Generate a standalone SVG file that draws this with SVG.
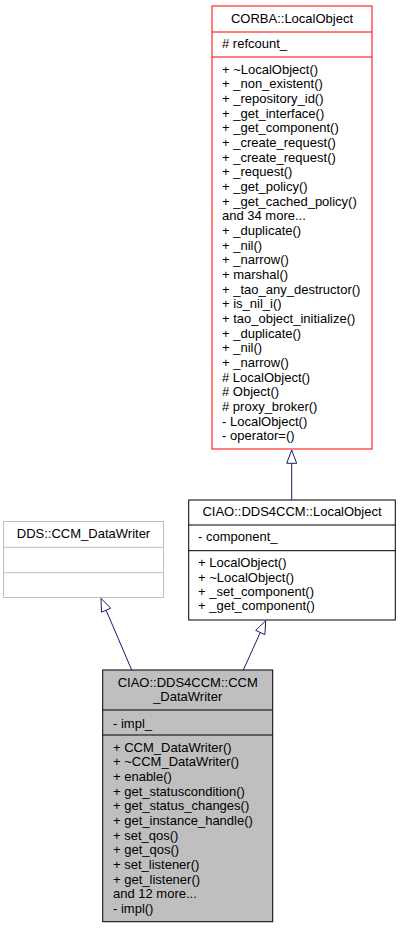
<svg xmlns="http://www.w3.org/2000/svg" width="400" height="928" viewBox="0 0 400 928">
<style>
text{font-family:"Liberation Sans",Arial,sans-serif;font-size:13px;fill:#000}
.c{text-anchor:middle}
.box{fill:#fff;stroke:#000;stroke-width:1}
.red{fill:#fff;stroke:#ff0000;stroke-width:1}
.gray{fill:#fff;stroke:#bfbfbf;stroke-width:1}
.cur{fill:#bfbfbf;stroke:#000;stroke-width:1}
.edge{stroke:#191970;stroke-width:1;fill:none}
.head{fill:#fff;stroke:#191970;stroke-width:1}
</style>
<rect width="400" height="928" fill="#fff"/>
<g id="corba_localobject">
<rect class="red" x="212" y="6" width="160" height="443"/>
<line x1="212" y1="32" x2="372" y2="32" stroke="#ff0000"/>
<line x1="212" y1="57" x2="372" y2="57" stroke="#ff0000"/>
<text class="c" x="292" y="23">CORBA::LocalObject</text>
<text x="222" y="48">#  refcount_</text>
<text x="222" y="73.5">+  ~LocalObject()</text>
<text x="222" y="88.2">+  _non_existent()</text>
<text x="222" y="102.8">+  _repository_id()</text>
<text x="222" y="117.5">+  _get_interface()</text>
<text x="222" y="132.2">+  _get_component()</text>
<text x="222" y="146.8">+  _create_request()</text>
<text x="222" y="161.5">+  _create_request()</text>
<text x="222" y="176.2">+  _request()</text>
<text x="222" y="190.9">+  _get_policy()</text>
<text x="222" y="205.5">+  _get_cached_policy()</text>
<text x="222" y="220.2">and 34 more...</text>
<text x="222" y="234.9">+  _duplicate()</text>
<text x="222" y="249.5">+  _nil()</text>
<text x="222" y="264.2">+  _narrow()</text>
<text x="222" y="278.9">+  marshal()</text>
<text x="222" y="293.5">+  _tao_any_destructor()</text>
<text x="222" y="308.2">+  is_nil_i()</text>
<text x="222" y="322.9">+  tao_object_initialize()</text>
<text x="222" y="337.5">+  _duplicate()</text>
<text x="222" y="352.2">+  _nil()</text>
<text x="222" y="366.9">+  _narrow()</text>
<text x="222" y="381.5">#  LocalObject()</text>
<text x="222" y="396.2">#  Object()</text>
<text x="222" y="410.9">#  proxy_broker()</text>
<text x="222" y="425.5">-  LocalObject()</text>
<text x="222" y="440.2">-  operator=()</text>
</g>
<g id="ciao_dds4ccm_localobject">
<rect class="box" x="188.7" y="500" width="206.6" height="120"/>
<line x1="188.7" y1="525" x2="395.3" y2="525" stroke="#000"/>
<line x1="188.7" y1="550.7" x2="395.3" y2="550.7" stroke="#000"/>
<text class="c" x="292" y="515.5">CIAO::DDS4CCM::LocalObject</text>
<text x="198" y="541.2">-  component_</text>
<text x="198" y="567.2">+  LocalObject()</text>
<text x="198" y="581.6">+  ~LocalObject()</text>
<text x="198" y="596">+  _set_component()</text>
<text x="198" y="610.4">+  _get_component()</text>
</g>
<g id="dds_ccm_datawriter">
<rect class="gray" x="3.5" y="521.5" width="160" height="76"/>
<line x1="3.5" y1="547.3" x2="163.5" y2="547.3" stroke="#bfbfbf"/>
<line x1="3.5" y1="572.7" x2="163.5" y2="572.7" stroke="#bfbfbf"/>
<text class="c" x="83.5" y="538">DDS::CCM_DataWriter</text>
</g>
<g id="ciao_dds4ccm_ccm_datawriter">
<rect class="cur" x="102.7" y="670" width="170" height="251.7"/>
<line x1="102.7" y1="710" x2="272.7" y2="710" stroke="#000"/>
<line x1="102.7" y1="735" x2="272.7" y2="735" stroke="#000"/>
<text class="c" x="187.7" y="687.2">CIAO::DDS4CCM::CCM</text>
<text class="c" x="187.7" y="701.2">_DataWriter</text>
<text x="113" y="727.8">-  impl_</text>
<text x="113" y="751.8">+  CCM_DataWriter()</text>
<text x="113" y="766.4">+  ~CCM_DataWriter()</text>
<text x="113" y="781.1">+  enable()</text>
<text x="113" y="795.7">+  get_statuscondition()</text>
<text x="113" y="810.4">+  get_status_changes()</text>
<text x="113" y="825">+  get_instance_handle()</text>
<text x="113" y="839.6">+  set_qos()</text>
<text x="113" y="854.3">+  get_qos()</text>
<text x="113" y="868.9">+  set_listener()</text>
<text x="113" y="883.6">+  get_listener()</text>
<text x="113" y="898.2">and 12 more...</text>
<text x="113" y="912.8">-  impl()</text>
</g>
<g id="connectors">
<line class="edge" x1="291.7" y1="463.3" x2="291.7" y2="500"/>
<polygon class="head" points="291.7,450 296.7,463.3 286.7,463.3"/>
<line class="edge" x1="131.7" y1="670" x2="106.1" y2="610.2"/>
<polygon class="head" points="101,598.3 110.7,608.2 101.5,612.2"/>
<line class="edge" x1="243.3" y1="670" x2="260.3" y2="632.5"/>
<polygon class="head" points="265.7,620.7 264.9,634.6 255.7,630.4"/>
</g>
</svg>
